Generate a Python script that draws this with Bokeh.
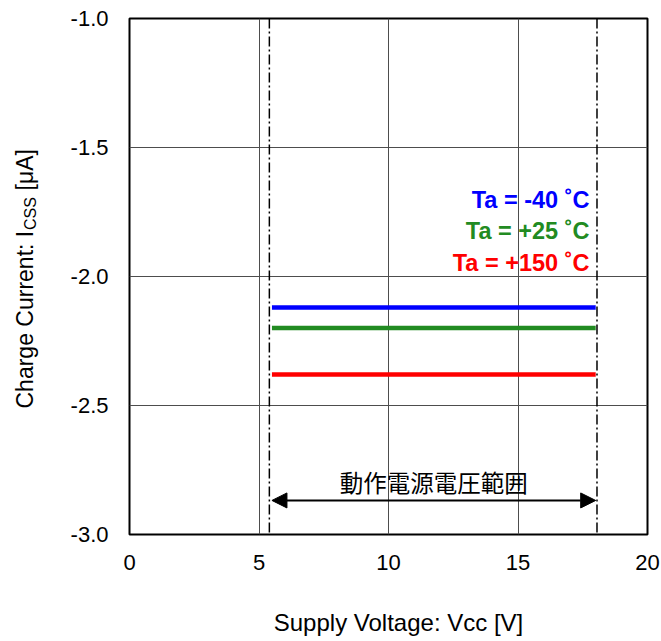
import math
from bokeh.plotting import figure
from bokeh.layouts import row
from bokeh.models import Range1d, FixedTicker, PrintfTickFormatter, Label, Arrow, NormalHead, Span
from bokeh.core.properties import value
from bokeh.embed import file_html
from bokeh.resources import INLINE

# ---- data ----
vcc = [5.5, 18.0]
icss_m40 = [-2.12, -2.12]
icss_p25 = [-2.20, -2.20]
icss_p150 = [-2.38, -2.38]
series_names = ["Ta = -40 ˚C", "Ta = +25 ˚C", "Ta = +150 ˚C"]
series_colors = ["#0000FF", "#228B22", "#FF0000"]
operating_range = [5.4, 18.05]
arrow_range = [5.5, 18.0]
range_label = "動作電源電圧範囲"
x_ticks = [0, 5, 10, 15, 20]
y_ticks = [-3.0, -2.5, -2.0, -1.5, -1.0]
x_label = "Supply Voltage: Vcc [V]"
y_label_parts = ["Charge Current: I", "CSS", "[μA]"]

FONT = "Liberation Sans"
FRAME_H = 516
TOP = 18
BOTTOM = 100
LAB_W = 64

p = figure(frame_width=518, frame_height=FRAME_H,
           x_range=Range1d(0, 20), y_range=Range1d(-3, -1),
           output_backend="svg", toolbar_location=None,
           min_border_left=129 - LAB_W, min_border_top=TOP,
           min_border_right=13, min_border_bottom=BOTTOM,
           background_fill_color="white", border_fill_color="white")

p.outline_line_color = "black"
p.outline_line_width = 2

for ax in (p.xaxis[0], p.yaxis[0]):
    ax.axis_line_color = None
    ax.major_tick_in = 0
    ax.major_tick_out = 0
    ax.minor_tick_in = 0
    ax.minor_tick_out = 0
    ax.major_label_text_font = FONT
    ax.major_label_text_font_size = "22px"
    ax.major_label_text_color = "black"

p.xaxis.ticker = FixedTicker(ticks=x_ticks)
p.yaxis.ticker = FixedTicker(ticks=y_ticks)
p.xaxis.formatter = PrintfTickFormatter(format="%d")
p.yaxis.formatter = PrintfTickFormatter(format="%.1f")
p.xaxis.major_label_standoff = 20
p.yaxis.major_label_standoff = 21

# leading no-break spaces nudge the centred label right, as in the reference
p.xaxis.axis_label = "\u00a0\u00a0\u00a0" + x_label
p.xaxis.axis_label_text_font = FONT
p.xaxis.axis_label_text_font_size = "24px"
p.xaxis.axis_label_text_font_style = "normal"
p.xaxis.axis_label_text_color = "black"
p.xaxis.axis_label_standoff = 36

p.xgrid.ticker = FixedTicker(ticks=x_ticks)
p.ygrid.ticker = FixedTicker(ticks=y_ticks)
p.grid.grid_line_color = "#4d4d4d"
p.grid.grid_line_width = 1

# operating range dash-dot lines
for loc in operating_range:
    p.add_layout(Span(location=loc, dimension="height", line_color="black",
                      line_width=1.5, line_dash="10 3 2 3"))

# data lines
for ys, c in zip([icss_m40, icss_p25, icss_p150], series_colors):
    p.line(vcc, ys, line_color=c, line_width=4.5)

# series labels
label_y = [-1.702, -1.824, -1.946]
for name, c, ly in zip(series_names, series_colors, label_y):
    p.add_layout(Label(x=17.76, y=ly, text=name, text_color=c,
                       text_font=FONT, text_font_size="23.5px",
                       text_font_style="bold", text_align="right",
                       text_baseline="alphabetic"))

# arrow
p.add_layout(Arrow(start=NormalHead(size=15, fill_color="black", line_color="black"),
                   end=NormalHead(size=15, fill_color="black", line_color="black"),
                   x_start=arrow_range[0], x_end=arrow_range[1],
                   y_start=-2.868, y_end=-2.868,
                   line_color="black", line_width=2))
p.add_layout(Label(x=(arrow_range[0] + arrow_range[1]) / 2, y=-2.798, text=range_label,
                   text_font="Noto Sans CJK JP", text_font_size="23.5px",
                   text_align="center", text_baseline="middle", text_color="black"))

# y axis label (with subscript) in a narrow side panel
lab = figure(frame_width=LAB_W, frame_height=FRAME_H,
             x_range=Range1d(0, LAB_W), y_range=Range1d(0, FRAME_H),
             output_backend="svg", toolbar_location=None,
             x_axis_location=None, y_axis_location=None,
             min_border_left=0, min_border_right=0,
             min_border_top=TOP, min_border_bottom=BOTTOM,
             background_fill_color="white", border_fill_color="white")
lab.outline_line_color = None
lab.grid.visible = False

lab.text(x=[24, 24], y=[126, 344], text=[y_label_parts[0], y_label_parts[2]],
         angle=math.pi / 2, text_font=value(FONT), text_font_size="23px",
         text_align="left", text_baseline="alphabetic", text_color="black")
lab.text(x=[29.5], y=[304.5], text=[y_label_parts[1]],
         angle=math.pi / 2, text_font=value(FONT), text_font_size="16px",
         text_align="left", text_baseline="alphabetic", text_color="black")

layout = row(lab, p)
open("out.html", "w").write(file_html(layout, INLINE))
